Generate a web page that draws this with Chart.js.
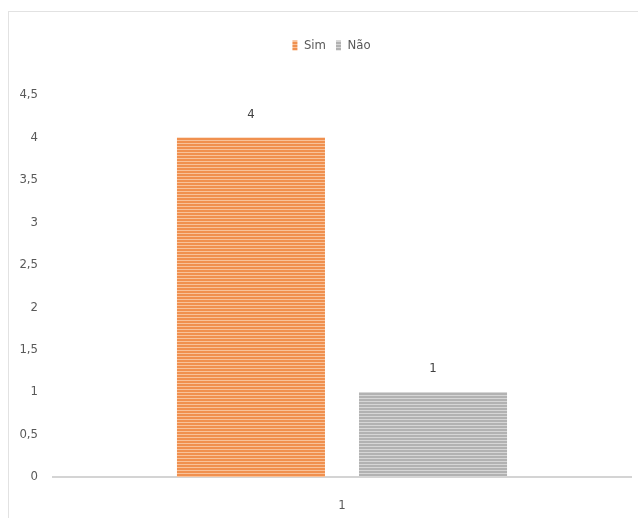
<!DOCTYPE html>
<html>
<head>
<meta charset="utf-8">
<script src="https://cdn.jsdelivr.net/npm/chart.js@4"></script>
<style>
  body { margin: 0; background: #fff; }
  #wrap { position: relative; width: 638px; height: 518px; }
  #frame { position: absolute; left: 8px; top: 11px; right: -2px; bottom: -2px; border-left: 1px solid #e2e2e2; border-top: 1px solid #e2e2e2; }
  canvas { position: absolute; left: 0; top: 0; }
</style>
</head>
<body>
<div id="wrap">
  <div id="frame"></div>
  <canvas id="chart" width="638" height="518"></canvas>
</div>
<script>
// data
const categories = ['1'];
const seriesNames = ['Sim', 'Não'];
const simValues = [4];
const naoValues = [1];

const FONT = '"Liberation Sans Narrow", "DejaVu Sans Condensed", "Noto Sans", sans-serif';
const TEXT_COLOR = '#595959';

// striped fill like the reference bars
function stripes(dark, light) {
    const c = document.createElement('canvas');
    c.width = 4; c.height = 3;
    const g = c.getContext('2d');
    g.fillStyle = dark; g.fillRect(0, 0, 4, 2);
    g.fillStyle = light; g.fillRect(0, 2, 4, 1);
    return g.createPattern(c, 'repeat');
}

const orangeFill = stripes('#F0904F', '#F8C29A');
const grayFill = stripes('#B2B2B2', '#D6D6D6');

// value labels on top of bars
const valueLabels = {
    id: 'valueLabels',
    afterDatasetsDraw(chart) {
        const ctx = chart.ctx;
        ctx.save();
        ctx.font = '13px ' + FONT;
        ctx.fillStyle = '#404040';
        ctx.textAlign = 'center';
        ctx.textBaseline = 'middle';
        chart.data.datasets.forEach((ds, i) => {
            chart.getDatasetMeta(i).data.forEach((bar, j) => {
                ctx.fillText(String(ds.data[j]).replace('.', ','), bar.x, bar.y - 23);
            });
        });
        ctx.restore();
    }
};

// legend: fixed height above the plot, and centred a bit right like the reference
const legendGap = {
    id: 'legendGap',
    beforeInit(chart) {
        const fit = chart.legend.fit;
        chart.legend.fit = function () {
            fit.bind(chart.legend)();
            this.height = 66;
        };
    },
    afterLayout(chart) {
        chart.legend.left += 14;
        chart.legend.right += 14;
    }
};

new Chart(document.getElementById('chart').getContext('2d'), {
    type: 'bar',
    data: {
        labels: categories,
        datasets: [
            { label: seriesNames[0], data: simValues, backgroundColor: orangeFill, categoryPercentage: 0.63, barPercentage: 0.813 },
            { label: seriesNames[1], data: naoValues, backgroundColor: grayFill, categoryPercentage: 0.63, barPercentage: 0.813 }
        ]
    },
    options: {
        responsive: false, animation: false,
        layout: { padding: { top: 29, left: 4, right: 7, bottom: 0 } },
        plugins: {
            tooltip: { enabled: false },
            legend: {
                position: 'top',
                labels: { color: TEXT_COLOR, boxWidth: 5, boxHeight: 10, padding: 10, font: { family: FONT, size: 13 } }
            }
        },
        scales: {
            x: {
                grid: { display: false, drawTicks: false },
                border: { color: '#d4d4d4', width: 2 },
                afterFit(scale) { scale.height = 41; },
                ticks: { color: TEXT_COLOR, padding: 21, font: { family: FONT, size: 13 } }
            },
            y: {
                min: 0, max: 4.5,
                grid: { display: false, drawTicks: false },
                border: { display: false },
                afterFit(scale) { scale.width = 49; },
                ticks: {
                    stepSize: 0.5, padding: 15, color: TEXT_COLOR,
                    font: { family: FONT, size: 13 },
                    callback: v => String(v).replace('.', ',')
                }
            }
        }
    },
    plugins: [valueLabels, legendGap]
});
</script>
</body>
</html>
